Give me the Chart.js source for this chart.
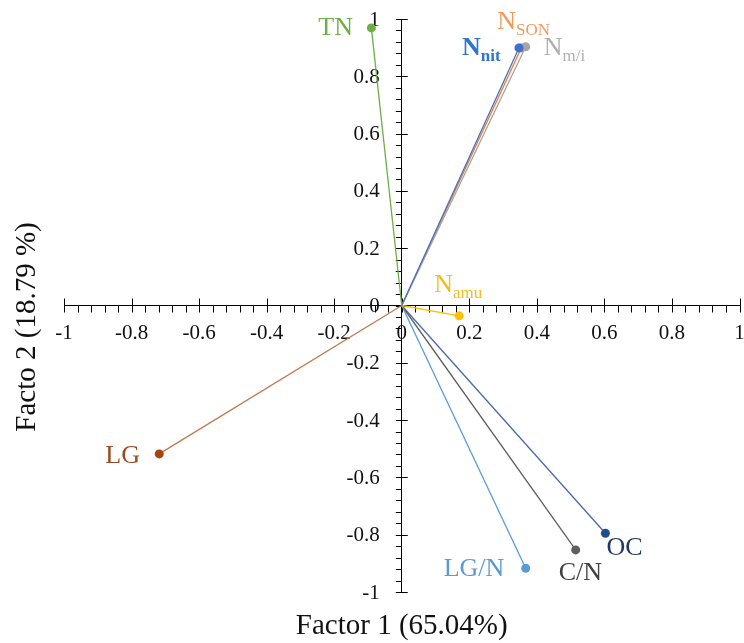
<!DOCTYPE html>
<html>
<head>
<meta charset="utf-8">
<script src="https://cdn.jsdelivr.net/npm/chart.js@4"></script>
<style>
  html, body { margin: 0; padding: 0; background: #fff; }
  #wrap { width: 744px; height: 643px; }
</style>
</head>
<body>
<div id="wrap"><canvas id="biplot"></canvas></div>
<script>
// loadings of each variable on factor 1 / factor 2
const variables = ["TN", "N_nit", "N_m/i", "N_SON", "N_amu", "LG", "LG/N", "C/N", "OC"];
const factor1 = [-0.09, 0.347, 0.367, 0.354, 0.17, -0.718, 0.367, 0.515, 0.603];
const factor2 = [0.969, 0.899, 0.903, 0.899, -0.036, -0.518, -0.917, -0.853, -0.795];
const tickValues = [-1, -0.8, -0.6, -0.4, -0.2, 0, 0.2, 0.4, 0.6, 0.8, 1];

// label text: main part + subscript
const labelMain = ["TN", "N", "N", "N", "N", "LG", "LG/N", "C/N", "OC"];
const labelSub = ["", "nit", "m/i", "SON", "amu", "", "", "", ""];

// styles
const lineColors = ["#70ad47", "#4472c4", "#a5a5a5", "#ed7d31", "#ffc000", "#c07a50", "#5b9bd5", "#5f5f5f", "#4a6aa8"];
const pointColors = ["#70ad47", "#3b6fd0", "#a5a5a5", "#ed7d31", "#ffc000", "#a9440c", "#5b9bd5", "#5f5f5f", "#1f4e8c"];
const labelColors = ["#70ad47", "#2f75d0", "#b0b0b0", "#f29a5c", "#f5bd1c", "#9c4a1f", "#5b9bd5", "#404040", "#1f3864"];
const labelBold = [false, true, false, false, false, false, false, false, false];
const labelOffsets = [[-53, 7], [-57, 7], [18, 8], [-24, -19], [-25, -24], [-54, 9], [-82, 8], [-17, 30], [1, 22]];

const serif = '"Liberation Serif", "Times New Roman", serif';

const axisDecor = {
    id: "axisDecor",
    beforeDatasetsDraw(chart) {
        const { ctx, scales: { x, y } } = chart;
        const x0 = x.getPixelForValue(0);
        const y0 = y.getPixelForValue(0);
        ctx.save();
        ctx.strokeStyle = "#000";
        ctx.lineWidth = 1;
        ctx.beginPath();
        for (let i = -25; i <= 25; i++) {
            const v = i * 0.04;
            const major = i % 5 === 0;
            const px = Math.round(x.getPixelForValue(v)) + 0.5;
            const py = Math.round(y.getPixelForValue(v)) + 0.5;
            // x axis ticks
            ctx.moveTo(px, major ? y0 - 7 : y0);
            ctx.lineTo(px, y0 + 7);
            // y axis ticks
            ctx.moveTo(x0 - 6, py);
            ctx.lineTo(major ? x0 + 6 : x0, py);
        }
        ctx.stroke();

        // y tick labels, right aligned left of the axis
        ctx.fillStyle = "#111";
        ctx.font = "21px " + serif;
        ctx.textAlign = "right";
        ctx.textBaseline = "middle";
        tickValues.forEach(v => {
            ctx.fillText(String(v), x0 - 22, y.getPixelForValue(v) + 1);
        });
        ctx.restore();
    },
    afterDraw(chart) {
        const { ctx, chartArea } = chart;
        ctx.save();
        ctx.fillStyle = "#111";
        ctx.font = "29px " + serif;
        ctx.textAlign = "center";
        ctx.textBaseline = "middle";
        ctx.fillText("Factor 1 (65.04%)", chart.scales.x.getPixelForValue(0), chartArea.bottom + 34);
        ctx.translate(27, 327);
        ctx.rotate(-Math.PI / 2);
        ctx.fillText("Facto 2 (18.79 %)", 0, 0);
        ctx.restore();
    }
};

const vectorLabels = {
    id: "vectorLabels",
    afterDatasetsDraw(chart) {
        const { ctx, scales: { x, y } } = chart;
        variables.forEach((name, i) => {
            const px = x.getPixelForValue(factor1[i]) + labelOffsets[i][0];
            const py = y.getPixelForValue(factor2[i]) + labelOffsets[i][1];
            const weight = labelBold[i] ? "bold " : "";
            ctx.save();
            ctx.fillStyle = labelColors[i];
            ctx.textBaseline = "alphabetic";
            ctx.font = weight + "26px " + serif;
            ctx.fillText(labelMain[i], px, py);
            if (labelSub[i]) {
                const w = ctx.measureText(labelMain[i]).width;
                ctx.font = weight + "17px " + serif;
                ctx.fillText(labelSub[i], px + w, py + 6);
            }
            ctx.restore();
        });
    }
};

const linearAxis = (pos) => ({
    type: "linear",
    min: -1,
    max: 1,
    position: pos,
    afterBuildTicks: (scale) => { scale.ticks = tickValues.map(v => ({ value: v })); },
    afterFit: (scale) => {
        if (scale.isHorizontal()) scale.height = 0; else scale.width = 0;
        scale.paddingLeft = scale.paddingRight = scale.paddingTop = scale.paddingBottom = 0;
    },
    grid: { display: false, drawTicks: false },
    border: { display: true, color: "#000", width: 1 },
    ticks: {
        color: "#111",
        font: { family: serif, size: 21 },
        padding: 15,
        autoSkip: false,
        maxRotation: 0,
        callback: (v) => String(v)
    }
});

const xAxis = linearAxis({ y: 0 });
const yAxis = linearAxis({ x: 0 });
yAxis.ticks.display = false;

new Chart(document.getElementById("biplot"), {
    type: "scatter",
    data: {
        datasets: variables.map((name, i) => ({
            label: name,
            data: [{ x: 0, y: 0 }, { x: factor1[i], y: factor2[i] }],
            showLine: true,
            borderColor: lineColors[i],
            backgroundColor: pointColors[i],
            borderWidth: 1.3,
            pointRadius: [0, 4.5],
            pointHoverRadius: 0,
            pointBorderWidth: 0
        }))
    },
    options: {
        responsive: true,
        maintainAspectRatio: false,
        animation: false,
        layout: { padding: { left: 64, right: 3, top: 19, bottom: 51 } },
        plugins: {
            legend: { display: false },
            tooltip: { enabled: false }
        },
        scales: { x: xAxis, y: yAxis }
    },
    plugins: [axisDecor, vectorLabels]
});
</script>
</body>
</html>
